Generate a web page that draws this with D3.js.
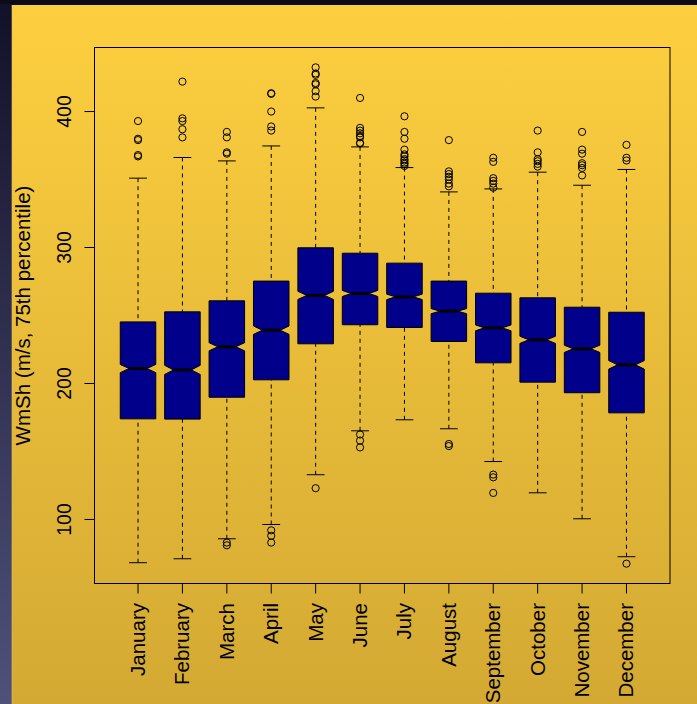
<!DOCTYPE html>
<html>
<head>
<meta charset="utf-8">
<script src="https://cdn.jsdelivr.net/npm/d3@7"></script>
<style>
  html, body { margin: 0; padding: 0; background: #0c0b1a; }
  svg { display: block; }
  text { font-family: "Liberation Sans", Arial, Helvetica, sans-serif; fill: #000; }
</style>
</head>
<body>
<script>
// Monthly WmSh distributions (m/s, 75th percentile)
const months = ["January", "February", "March", "April", "May", "June",
                "July", "August", "September", "October", "November", "December"];
const q1          = [174.0, 173.8, 189.9, 202.7, 229.2, 243.2, 241.2, 230.9, 215.2, 201.0, 193.2, 178.4];
const medians     = [211.0, 210.0, 227.0, 239.2, 264.8, 266.2, 263.7, 253.2, 240.9, 232.1, 225.5, 213.7];
const q3          = [245.3, 252.7, 260.8, 275.3, 299.8, 295.8, 288.5, 275.3, 266.4, 263.0, 256.1, 252.4];
const whiskerLow  = [68.2, 71.1, 85.8, 96.3, 132.9, 165.2, 173.3, 166.7, 142.6, 119.6, 100.5, 72.6];
const whiskerHigh = [351.0, 366.2, 363.7, 374.7, 402.7, 374.0, 358.8, 340.9, 343.1, 355.4, 345.8, 357.4];
const outliers = [
  [367, 368, 379, 380, 393],
  [381, 387, 393, 395, 422],
  [81, 83, 369, 370, 381, 385],
  [83, 88, 92, 386, 389, 400, 413, 413.5],
  [123, 411, 415, 420, 421, 427, 428, 432.5],
  [153, 158, 162.5, 376.5, 377, 381, 382, 384, 386, 388, 410],
  [360, 361.5, 362.5, 364, 365, 367, 368.5, 372, 380, 385, 396.5],
  [154, 155.5, 345, 347, 350, 352, 354, 356, 379],
  [119.5, 131, 133, 344, 347, 349, 351, 363, 366],
  [359.5, 361.5, 363.5, 365, 370, 386],
  [353, 358.5, 360.5, 362, 369, 372, 385],
  [67.5, 364, 366, 375.5]
];
const yTicks = [100, 200, 300, 400];
const yTitle = "WmSh (m/s, 75th percentile)";
const sampleSize = 1395; // daily values per month, used for notch half-width

const W = 697, H = 704;
const plot = { left: 94.5, right: 670, top: 47.5, bottom: 583.5 };

const svg = d3.select("body").append("svg").attr("width", W).attr("height", H);
const defs = svg.append("defs");

const panelGrad = defs.append("linearGradient").attr("id", "panel")
  .attr("x1", 0).attr("y1", 0).attr("x2", 0).attr("y2", 1);
panelGrad.append("stop").attr("offset", "0%").attr("stop-color", "#fdcf3f");
panelGrad.append("stop").attr("offset", "100%").attr("stop-color", "#d3a933");

const sideGrad = defs.append("linearGradient").attr("id", "side")
  .attr("x1", 0).attr("y1", 0).attr("x2", 0).attr("y2", 1);
sideGrad.append("stop").attr("offset", "0%").attr("stop-color", "#12112a");
sideGrad.append("stop").attr("offset", "100%").attr("stop-color", "#4f5179");

// backdrop
svg.append("rect").attr("width", W).attr("height", H).attr("fill", "#0c0b1a");
svg.append("rect").attr("x", 0).attr("y", 4).attr("width", 12).attr("height", H - 4).attr("fill", "url(#side)");
svg.append("rect").attr("x", 12).attr("y", 5).attr("width", W - 12).attr("height", H - 5).attr("fill", "url(#panel)");
svg.append("line").attr("x1", 12).attr("x2", 12).attr("y1", 5).attr("y2", H)
  .attr("stroke", "#e9c45a").attr("stroke-width", 1).attr("opacity", 0.6);

// scales: 4% padding around the data range, like base graphics
const allVals = whiskerLow.concat(whiskerHigh, outliers.flat());
const dMin = d3.min(allVals), dMax = d3.max(allVals);
const pad = (dMax - dMin) * 0.04;
const y = d3.scaleLinear().domain([dMin - pad, dMax + pad]).range([plot.bottom, plot.top]);
const xPad = 12 * 0.04;
const x = d3.scaleLinear().domain([0.5 - xPad, 12.5 + xPad]).range([plot.left, plot.right]);

const boxHalf = x(1.4) - x(1);   // boxwex 0.8
const notchFrac = 0.5;
const stapleHalf = boxHalf * 0.5;

const g = svg.append("g");

months.forEach((m, i) => {
  const cx = x(i + 1);
  const iqr = q3[i] - q1[i];
  const conf = 1.58 * iqr / Math.sqrt(sampleSize);
  const lo = medians[i] - conf, hi = medians[i] + conf;

  // whiskers (dashed) and staples
  g.append("line").attr("x1", cx).attr("x2", cx)
    .attr("y1", y(whiskerLow[i])).attr("y2", y(q1[i]))
    .attr("stroke", "#000").attr("stroke-width", 1).attr("stroke-dasharray", "4,4");
  g.append("line").attr("x1", cx).attr("x2", cx)
    .attr("y1", y(whiskerHigh[i])).attr("y2", y(q3[i]))
    .attr("stroke", "#000").attr("stroke-width", 1).attr("stroke-dasharray", "4,4");
  [whiskerLow[i], whiskerHigh[i]].forEach(v => {
    g.append("line").attr("x1", cx - stapleHalf).attr("x2", cx + stapleHalf)
      .attr("y1", y(v)).attr("y2", y(v)).attr("stroke", "#000").attr("stroke-width", 1);
  });

  // notched box
  const pts = [
    [cx - boxHalf, y(q1[i])], [cx + boxHalf, y(q1[i])], [cx + boxHalf, y(lo)],
    [cx + boxHalf * notchFrac, y(medians[i])], [cx + boxHalf, y(hi)],
    [cx + boxHalf, y(q3[i])], [cx - boxHalf, y(q3[i])], [cx - boxHalf, y(hi)],
    [cx - boxHalf * notchFrac, y(medians[i])], [cx - boxHalf, y(lo)]
  ];
  g.append("polygon").attr("points", pts.map(p => p.join(",")).join(" "))
    .attr("fill", "#00008b").attr("stroke", "#000").attr("stroke-width", 1)
    .attr("stroke-linejoin", "miter");
  g.append("line").attr("x1", cx - boxHalf * notchFrac).attr("x2", cx + boxHalf * notchFrac)
    .attr("y1", y(medians[i])).attr("y2", y(medians[i]))
    .attr("stroke", "#000").attr("stroke-width", 3);

  // outliers
  g.selectAll(null).data(outliers[i]).enter().append("circle")
    .attr("cx", cx).attr("cy", d => y(d)).attr("r", 3.6)
    .attr("fill", "none").attr("stroke", "#000").attr("stroke-width", 1);
});

// plot frame
svg.append("rect").attr("x", plot.left).attr("y", plot.top)
  .attr("width", plot.right - plot.left).attr("height", plot.bottom - plot.top)
  .attr("fill", "none").attr("stroke", "#000").attr("stroke-width", 1);

// left axis
const yAxis = svg.append("g");
yAxis.append("line").attr("x1", plot.left).attr("x2", plot.left)
  .attr("y1", y(yTicks[0])).attr("y2", y(yTicks[yTicks.length - 1])).attr("stroke", "#000");
yTicks.forEach(t => {
  yAxis.append("line").attr("x1", plot.left - 10).attr("x2", plot.left)
    .attr("y1", y(t)).attr("y2", y(t)).attr("stroke", "#000");
  yAxis.append("text").attr("transform", `translate(71,${y(t)}) rotate(-90)`)
    .attr("text-anchor", "middle").attr("font-size", 19.5).text(t);
});

// bottom axis
const xAxis = svg.append("g");
xAxis.append("line").attr("x1", x(1)).attr("x2", x(12))
  .attr("y1", plot.bottom).attr("y2", plot.bottom).attr("stroke", "#000");
months.forEach((m, i) => {
  const cx = x(i + 1);
  xAxis.append("line").attr("x1", cx).attr("x2", cx)
    .attr("y1", plot.bottom).attr("y2", plot.bottom + 10).attr("stroke", "#000");
  xAxis.append("text").attr("transform", `translate(${cx + 7},603) rotate(-90)`)
    .attr("text-anchor", "end").attr("font-size", 20.5).text(m);
});

// axis title
svg.append("text").attr("transform", `translate(30,${(plot.top + plot.bottom) / 2}) rotate(-90)`)
  .attr("text-anchor", "middle").attr("font-size", 20.5).text(yTitle);
</script>
</body>
</html>
